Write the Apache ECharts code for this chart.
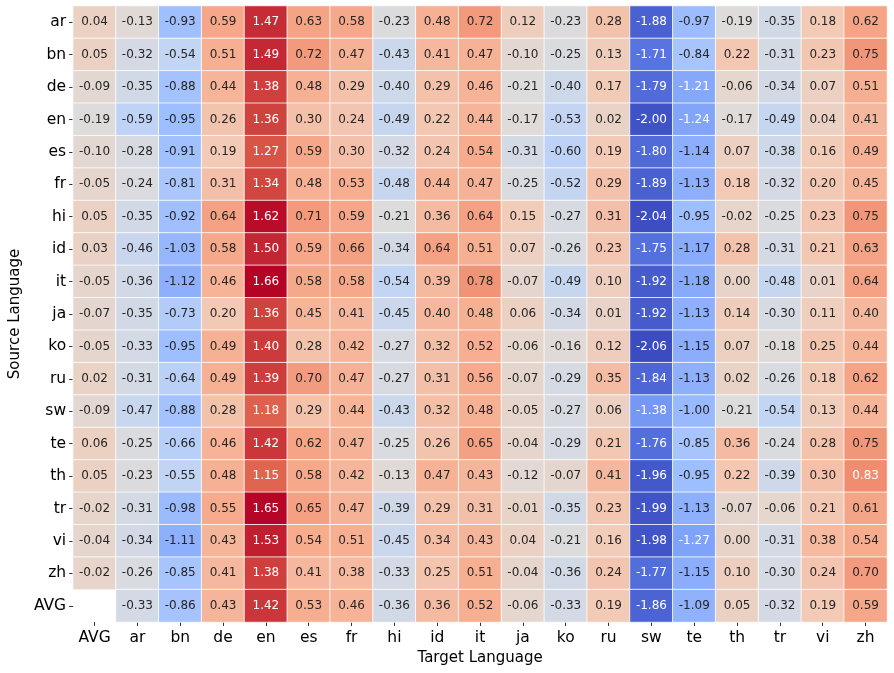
<!DOCTYPE html>
<html>
<head>
<meta charset="utf-8">
<script src="https://cdn.jsdelivr.net/npm/echarts@6/dist/echarts.min.js"></script>
<style>
  html, body { margin: 0; padding: 0; background: #fff; }
  #chart { width: 894px; height: 673px; }
</style>
</head>
<body>
<div id="chart"></div>
<script>
  // target languages (columns) and source languages (rows)
  var targetLangs = ['AVG', 'ar', 'bn', 'de', 'en', 'es', 'fr', 'hi', 'id', 'it', 'ja', 'ko', 'ru', 'sw', 'te', 'th', 'tr', 'vi', 'zh'];
  var sourceLangs = ['ar', 'bn', 'de', 'en', 'es', 'fr', 'hi', 'id', 'it', 'ja', 'ko', 'ru', 'sw', 'te', 'th', 'tr', 'vi', 'zh', 'AVG'];

  // one row per source language, values in targetLangs order
  var rowAr  = [0.04, -0.13, -0.93, 0.59, 1.47, 0.63, 0.58, -0.23, 0.48, 0.72, 0.12, -0.23, 0.28, -1.88, -0.97, -0.19, -0.35, 0.18, 0.62];
  var rowBn  = [0.05, -0.32, -0.54, 0.51, 1.49, 0.72, 0.47, -0.43, 0.41, 0.47, -0.10, -0.25, 0.13, -1.71, -0.84, 0.22, -0.31, 0.23, 0.75];
  var rowDe  = [-0.09, -0.35, -0.88, 0.44, 1.38, 0.48, 0.29, -0.40, 0.29, 0.46, -0.21, -0.40, 0.17, -1.79, -1.21, -0.06, -0.34, 0.07, 0.51];
  var rowEn  = [-0.19, -0.59, -0.95, 0.26, 1.36, 0.30, 0.24, -0.49, 0.22, 0.44, -0.17, -0.53, 0.02, -2.00, -1.24, -0.17, -0.49, 0.04, 0.41];
  var rowEs  = [-0.10, -0.28, -0.91, 0.19, 1.27, 0.59, 0.30, -0.32, 0.24, 0.54, -0.31, -0.60, 0.19, -1.80, -1.14, 0.07, -0.38, 0.16, 0.49];
  var rowFr  = [-0.05, -0.24, -0.81, 0.31, 1.34, 0.48, 0.53, -0.48, 0.44, 0.47, -0.25, -0.52, 0.29, -1.89, -1.13, 0.18, -0.32, 0.20, 0.45];
  var rowHi  = [0.05, -0.35, -0.92, 0.64, 1.62, 0.71, 0.59, -0.21, 0.36, 0.64, 0.15, -0.27, 0.31, -2.04, -0.95, -0.02, -0.25, 0.23, 0.75];
  var rowId  = [0.03, -0.46, -1.03, 0.58, 1.50, 0.59, 0.66, -0.34, 0.64, 0.51, 0.07, -0.26, 0.23, -1.75, -1.17, 0.28, -0.31, 0.21, 0.63];
  var rowIt  = [-0.05, -0.36, -1.12, 0.46, 1.66, 0.58, 0.58, -0.54, 0.39, 0.78, -0.07, -0.49, 0.10, -1.92, -1.18, 0.00, -0.48, 0.01, 0.64];
  var rowJa  = [-0.07, -0.35, -0.73, 0.20, 1.36, 0.45, 0.41, -0.45, 0.40, 0.48, 0.06, -0.34, 0.01, -1.92, -1.13, 0.14, -0.30, 0.11, 0.40];
  var rowKo  = [-0.05, -0.33, -0.95, 0.49, 1.40, 0.28, 0.42, -0.27, 0.32, 0.52, -0.06, -0.16, 0.12, -2.06, -1.15, 0.07, -0.18, 0.25, 0.44];
  var rowRu  = [0.02, -0.31, -0.64, 0.49, 1.39, 0.70, 0.47, -0.27, 0.31, 0.56, -0.07, -0.29, 0.35, -1.84, -1.13, 0.02, -0.26, 0.18, 0.62];
  var rowSw  = [-0.09, -0.47, -0.88, 0.28, 1.18, 0.29, 0.44, -0.43, 0.32, 0.48, -0.05, -0.27, 0.06, -1.38, -1.00, -0.21, -0.54, 0.13, 0.44];
  var rowTe  = [0.06, -0.25, -0.66, 0.46, 1.42, 0.62, 0.47, -0.25, 0.26, 0.65, -0.04, -0.29, 0.21, -1.76, -0.85, 0.36, -0.24, 0.28, 0.75];
  var rowTh  = [0.05, -0.23, -0.55, 0.48, 1.15, 0.58, 0.42, -0.13, 0.47, 0.43, -0.12, -0.07, 0.41, -1.96, -0.95, 0.22, -0.39, 0.30, 0.83];
  var rowTr  = [-0.02, -0.31, -0.98, 0.55, 1.65, 0.65, 0.47, -0.39, 0.29, 0.31, -0.01, -0.35, 0.23, -1.99, -1.13, -0.07, -0.06, 0.21, 0.61];
  var rowVi  = [-0.04, -0.34, -1.11, 0.43, 1.53, 0.54, 0.51, -0.45, 0.34, 0.43, 0.04, -0.21, 0.16, -1.98, -1.27, 0.00, -0.31, 0.38, 0.54];
  var rowZh  = [-0.02, -0.26, -0.85, 0.41, 1.38, 0.41, 0.38, -0.33, 0.25, 0.51, -0.04, -0.36, 0.24, -1.77, -1.15, 0.10, -0.30, 0.24, 0.70];
  var rowAvg = [null, -0.33, -0.86, 0.43, 1.42, 0.53, 0.46, -0.36, 0.36, 0.52, -0.06, -0.33, 0.19, -1.86, -1.09, 0.05, -0.32, 0.19, 0.59];

  var rows = [rowAr, rowBn, rowDe, rowEn, rowEs, rowFr, rowHi, rowId, rowIt, rowJa,
              rowKo, rowRu, rowSw, rowTe, rowTh, rowTr, rowVi, rowZh, rowAvg];

  // coolwarm
  var coolwarm = ['#3b4cc0', '#5977e3', '#7b9ff9', '#9ebeff', '#c0d4f5', '#dddcdc',
                  '#f2cbb7', '#f7ac8e', '#ee8468', '#d65244', '#b40426'];

  var data = [];
  rows.forEach(function (row, r) {
    row.forEach(function (v, c) {
      if (v === null) return; // empty cell
      var light = v >= 0.8 || v <= -1.2;
      data.push({
        value: [c, r, v],
        label: { color: light ? '#ffffff' : '#262626' }
      });
    });
  });

  var chart = echarts.init(document.getElementById('chart'));
  var font = 'DejaVu Sans';
  chart.setOption({
    animation: false,
    backgroundColor: '#ffffff',
    grid: { left: 68, top: 6, width: 819, height: 616 },
    xAxis: {
      type: 'category',
      data: targetLangs,
      name: 'Target Language',
      nameLocation: 'middle',
      nameGap: 28,
      nameTextStyle: { fontFamily: font, fontSize: 15, color: '#000' },
      axisLine: { show: false },
      axisTick: { show: true, alignWithLabel: true, length: 4, lineStyle: { color: '#333' } },
      axisLabel: { fontFamily: font, fontSize: 15.5, color: '#000', margin: 8 },
      splitLine: { show: false }
    },
    yAxis: {
      type: 'category',
      data: sourceLangs,
      inverse: true,
      name: 'Source Language',
      nameLocation: 'middle',
      nameGap: 48,
      nameTextStyle: { fontFamily: font, fontSize: 15, color: '#000' },
      axisLine: { show: false },
      axisTick: { show: true, alignWithLabel: true, length: 4, lineStyle: { color: '#333' } },
      axisLabel: { fontFamily: font, fontSize: 15.5, color: '#000', margin: 7 },
      splitLine: { show: false }
    },
    visualMap: {
      show: false,
      type: 'continuous',
      dimension: 2,
      min: -2.06,
      max: 1.66,
      inRange: { color: coolwarm }
    },
    series: [{
      type: 'heatmap',
      data: data,
      label: {
        show: true,
        fontFamily: font,
        fontSize: 12,
        formatter: function (p) { return p.value[2].toFixed(2); }
      },
      itemStyle: { borderColor: '#ffffff', borderWidth: 0.8 },
      emphasis: { disabled: true }
    }]
  });
</script>
</body>
</html>
